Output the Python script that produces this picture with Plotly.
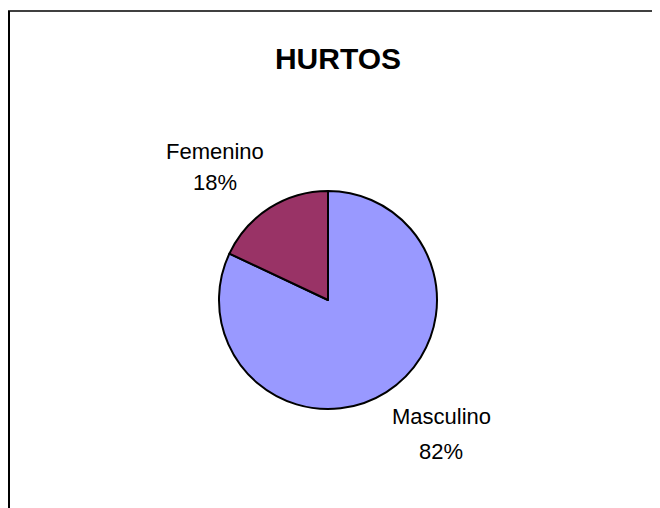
import plotly.graph_objects as go

# data
sexo = ["Masculino", "Femenino"]
porcentaje = [82, 18]
colores = ["#9999FF", "#993366"]

# the page body has an 8px margin, so the figure is drawn 8px smaller
W, H = 652, 500
FONT = "Liberation Sans, Arial, sans-serif"

fig = go.Figure(go.Pie(
    labels=sexo,
    values=porcentaje,
    sort=False,
    direction="clockwise",
    rotation=0,
    marker=dict(colors=colores, line=dict(color="black", width=2)),
    textinfo="none",
    showlegend=False,
    hoverinfo="label+percent",
    domain=dict(x=[211 / W, 429 / W], y=[99 / H, 317 / H]),
))

# outside labels: name on one line, percentage below
total = sum(porcentaje)
label_pos = {"Femenino": (207, 143, 174), "Masculino": (433, 408, 443)}
for name, val in zip(sexo, porcentaje):
    x, y1, y2 = label_pos[name]
    for txt, y in [(name, y1), (f"{round(100 * val / total)}%", y2)]:
        fig.add_annotation(
            text=txt, x=x / W, y=1 - y / H, xref="paper", yref="paper",
            xanchor="center", yanchor="middle", showarrow=False,
            font=dict(family=FONT, size=22, color="black"),
        )

fig.update_layout(
    width=W, height=H,
    margin=dict(l=0, r=0, t=0, b=0),
    paper_bgcolor="white",
    title=dict(
        text="<b>HURTOS</b>",
        x=330 / W, xanchor="center",
        y=1 - 50 / H, yanchor="middle",
        font=dict(family=FONT, size=30, color="black"),
    ),
    shapes=[
        dict(type="line", xref="paper", yref="paper",
             x0=0, x1=1.02, y0=1 - 3 / H, y1=1 - 3 / H,
             line=dict(color="#404040", width=2)),
        dict(type="line", xref="paper", yref="paper",
             x0=1 / W, x1=1 / W, y0=1 - 3 / H, y1=-0.02,
             line=dict(color="black", width=2)),
    ],
)

fig.write_html("out.html")
